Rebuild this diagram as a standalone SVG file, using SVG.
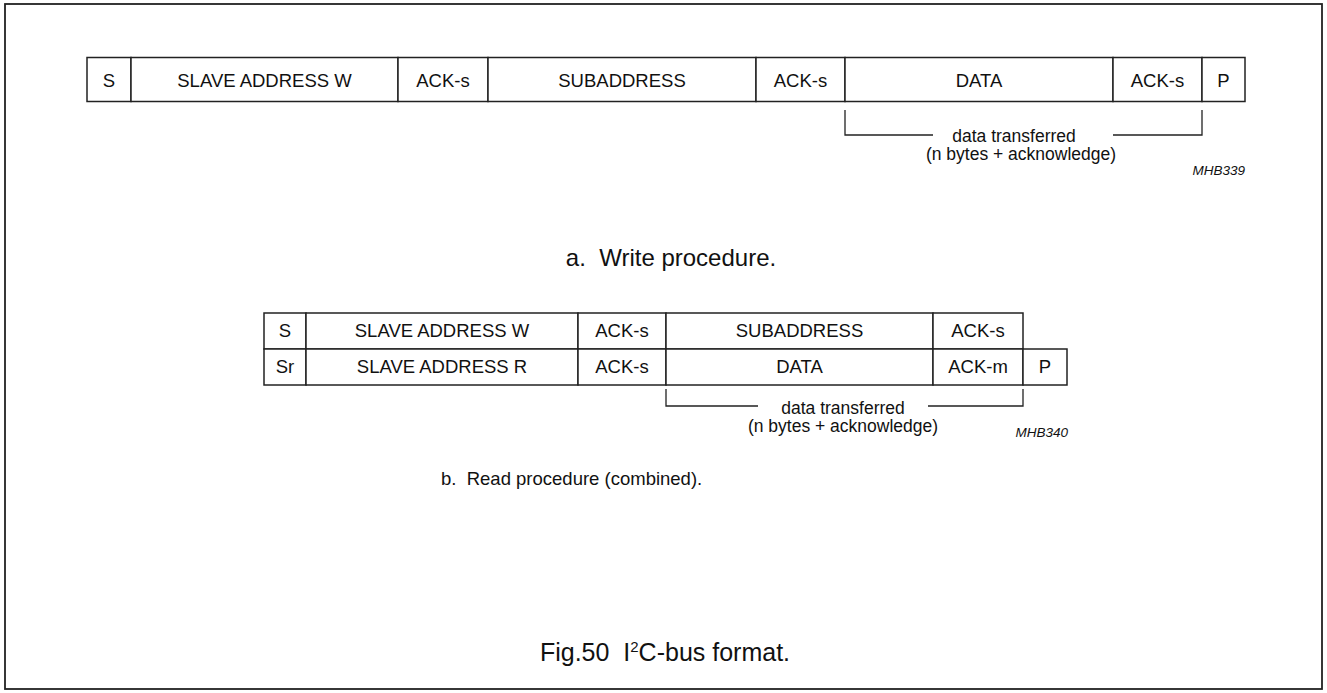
<svg xmlns="http://www.w3.org/2000/svg" width="1327" height="693" viewBox="0 0 1327 693">
<style>
.cell{fill:#fff;stroke:#222;stroke-width:1.5}
.lbl{font-family:"Liberation Sans",Arial,sans-serif;font-size:18.5px;fill:#111;text-anchor:middle}
.sm{font-family:"Liberation Sans",Arial,sans-serif;font-size:17.5px;fill:#111;text-anchor:middle}
.code{font-family:"Liberation Sans",Arial,sans-serif;font-size:13.5px;font-style:italic;fill:#111;text-anchor:end}
.cap{font-family:"Liberation Sans",Arial,sans-serif;font-size:24px;fill:#111;text-anchor:middle;white-space:pre}
.br{fill:none;stroke:#222;stroke-width:1.3}
</style>
<rect x="0" y="0" width="1327" height="693" fill="#fff"/>
<rect x="5" y="4" width="1317" height="685" fill="none" stroke="#222" stroke-width="1.8"/>

<g id="write">
<g id="w-s"><rect class="cell" x="87" y="57.5" width="44" height="44"/><text class="lbl" x="109" y="87">S</text></g>
<g id="w-addr"><rect class="cell" x="131" y="57.5" width="267" height="44"/><text class="lbl" x="264.5" y="87">SLAVE ADDRESS W</text></g>
<g id="w-ack1"><rect class="cell" x="398" y="57.5" width="90" height="44"/><text class="lbl" x="443" y="87">ACK-s</text></g>
<g id="w-sub"><rect class="cell" x="488" y="57.5" width="268" height="44"/><text class="lbl" x="622" y="87">SUBADDRESS</text></g>
<g id="w-ack2"><rect class="cell" x="756" y="57.5" width="89" height="44"/><text class="lbl" x="800.5" y="87">ACK-s</text></g>
<g id="w-data"><rect class="cell" x="845" y="57.5" width="268" height="44"/><text class="lbl" x="979" y="87">DATA</text></g>
<g id="w-ack3"><rect class="cell" x="1113" y="57.5" width="89" height="44"/><text class="lbl" x="1157.5" y="87">ACK-s</text></g>
<g id="w-p"><rect class="cell" x="1202" y="57.5" width="43" height="44"/><text class="lbl" x="1223.5" y="87">P</text></g>
</g>

<g id="read">
<g id="r-s"><rect class="cell" x="264" y="313" width="42" height="36"/><text class="lbl" x="285" y="337">S</text></g>
<g id="r-addrw"><rect class="cell" x="306" y="313" width="272" height="36"/><text class="lbl" x="442" y="337">SLAVE ADDRESS W</text></g>
<g id="r-ack1"><rect class="cell" x="578" y="313" width="88" height="36"/><text class="lbl" x="622" y="337">ACK-s</text></g>
<g id="r-sub"><rect class="cell" x="666" y="313" width="267" height="36"/><text class="lbl" x="799.5" y="337">SUBADDRESS</text></g>
<g id="r-ack2"><rect class="cell" x="933" y="313" width="90" height="36"/><text class="lbl" x="978" y="337">ACK-s</text></g>
<g id="r-sr"><rect class="cell" x="264" y="349" width="42" height="36"/><text class="lbl" x="285" y="373">Sr</text></g>
<g id="r-addrr"><rect class="cell" x="306" y="349" width="272" height="36"/><text class="lbl" x="442" y="373">SLAVE ADDRESS R</text></g>
<g id="r-ack3"><rect class="cell" x="578" y="349" width="88" height="36"/><text class="lbl" x="622" y="373">ACK-s</text></g>
<g id="r-data"><rect class="cell" x="666" y="349" width="267" height="36"/><text class="lbl" x="799.5" y="373">DATA</text></g>
<g id="r-ackm"><rect class="cell" x="933" y="349" width="90" height="36"/><text class="lbl" x="978" y="373">ACK-m</text></g>
<g id="r-p"><rect class="cell" x="1023" y="349" width="44" height="36"/><text class="lbl" x="1045" y="373">P</text></g>
</g>

<g id="connectors">
<path class="br" d="M845,110 V135 H933 M1113,135 H1202 V110"/>
<path class="br" d="M666,389 V406 H758 M928,406 H1023 V389"/>
</g>

<g id="labels">
<text class="sm" x="1014" y="142">data transferred</text>
<text class="sm" x="1021" y="160">(n bytes + acknowledge)</text>
<text class="code" x="1245" y="175">MHB339</text>
<text class="sm" x="843" y="414">data transferred</text>
<text class="sm" x="843" y="432">(n bytes + acknowledge)</text>
<text class="code" x="1068" y="437">MHB340</text>
<text class="cap" x="671" y="266">a.  Write procedure.</text>
<text class="cap" x="441" y="485" style="text-anchor:start;font-size:18.5px">b.  Read procedure (combined).</text>
<text class="cap" x="665" y="661" style="font-size:25px">Fig.50  I<tspan font-size="15px" dy="-9">2</tspan><tspan dy="9">C-bus format.</tspan></text>
</g>
</svg>
